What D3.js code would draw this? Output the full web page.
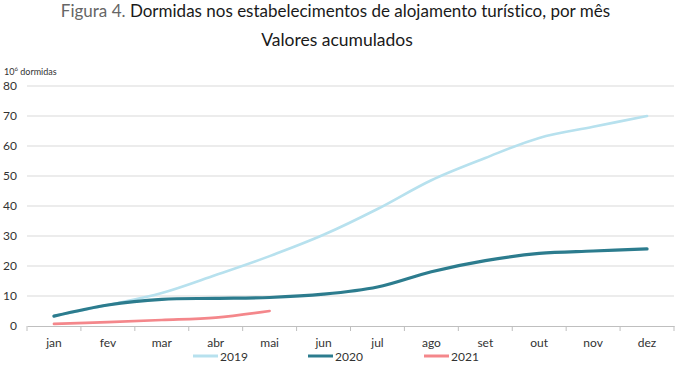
<!DOCTYPE html>
<html><head><meta charset="utf-8">
<script src="https://cdn.jsdelivr.net/npm/d3@7"></script>
<style>body{margin:0;background:#fff;} svg{display:block;font-family:Lato,"Open Sans",sans-serif;font-variant-ligatures:none;font-feature-settings:"liga" 0;}</style>
</head><body>
<svg id="c" width="681" height="367"></svg>
<script>
const months = ["jan","fev","mar","abr","mai","jun","jul","ago","set","out","nov","dez"];
const yTicks = [0,10,20,30,40,50,60,70,80];
const s2019 = [3.3,7.0,11.0,17.0,23.3,30.4,39.0,48.6,56.0,62.7,66.4,70.0];
const s2020 = [3.3,7.0,8.9,9.2,9.5,10.6,13.0,18.1,21.8,24.2,25.0,25.7];
const s2021 = [0.7,1.3,2.0,2.8,5.0];
const seriesNames = ["2019","2020","2021"];
const seriesColors = ["#b7e1ee","#2c7c8e","#f4878b"];
const seriesWidths = [2.6,3.2,2.6];

const svg = d3.select("#c");
const x = d3.scaleBand().domain(months).range([27,674]);
const y = d3.scaleLinear().domain([0,80]).range([326,86]);

// title
const t = svg.append("text").attr("x",335.5).attr("y",17).attr("text-anchor","middle").attr("font-size",17);
t.append("tspan").attr("fill","#666").text("Figura 4. ");
t.append("tspan").attr("fill","#1a1a1a").text("Dormidas nos estabelecimentos de alojamento turístico, por mês");
svg.append("text").attr("x",337).attr("y",46).attr("text-anchor","middle").attr("font-size",17.5).attr("fill","#1a1a1a").text("Valores acumulados");

// unit label
const u = svg.append("text").attr("x",4).attr("y",75).attr("font-size",9).attr("fill","#333");
u.append("tspan").text("10");
u.append("tspan").attr("font-size",6).attr("dy",-4).text("6");
u.append("tspan").attr("dy",4).text(" dormidas");

// gridlines
svg.append("g").selectAll("line").data(yTicks.filter(d=>d>0)).join("line")
  .attr("x1",27).attr("x2",674).attr("y1",d=>y(d)).attr("y2",d=>y(d))
  .attr("stroke","#d9d9d9").attr("stroke-width",1);

// y axis labels
const ya = svg.append("g").attr("transform","translate(17,0)")
  .call(d3.axisLeft(y).tickValues(yTicks).tickSize(0).tickPadding(0));
ya.select(".domain").remove();
ya.selectAll("text").attr("font-size",12).attr("fill","#333").attr("font-family","Lato,sans-serif");

// x axis
const xa = svg.append("g").attr("transform","translate(0,326)")
  .call(d3.axisBottom(x).tickSize(0).tickPadding(12));
xa.select(".domain").attr("stroke","#bfbfbf");
xa.selectAll("text").attr("font-size",12).attr("fill","#333").attr("font-family","Lato,sans-serif");
const bounds = months.map(m=>x(m)).concat([x.range()[1]]);
svg.append("g").selectAll("line").data(bounds).join("line")
  .attr("x1",d=>d).attr("x2",d=>d).attr("y1",326).attr("y2",331)
  .attr("stroke","#bfbfbf");

// lines
const line = d3.line().x((d,i)=>x(months[i])+x.bandwidth()/2).y(d=>y(d)).curve(d3.curveCatmullRom.alpha(0.5));
[s2019,s2020,s2021].forEach((s,i)=>{
  svg.append("path").datum(s).attr("d",line).attr("fill","none")
    .attr("stroke",seriesColors[i]).attr("stroke-width",seriesWidths[i]).attr("stroke-linecap","round");
});

// legend
const legX = [193,308,424];
seriesNames.forEach((n,i)=>{
  svg.append("line").attr("x1",legX[i]).attr("x2",legX[i]+25).attr("y1",356).attr("y2",356)
    .attr("stroke",seriesColors[i]).attr("stroke-width",3);
  svg.append("text").attr("x",legX[i]+27).attr("y",361).attr("font-size",12).attr("fill","#333").text(n);
});
</script>
</body></html>
